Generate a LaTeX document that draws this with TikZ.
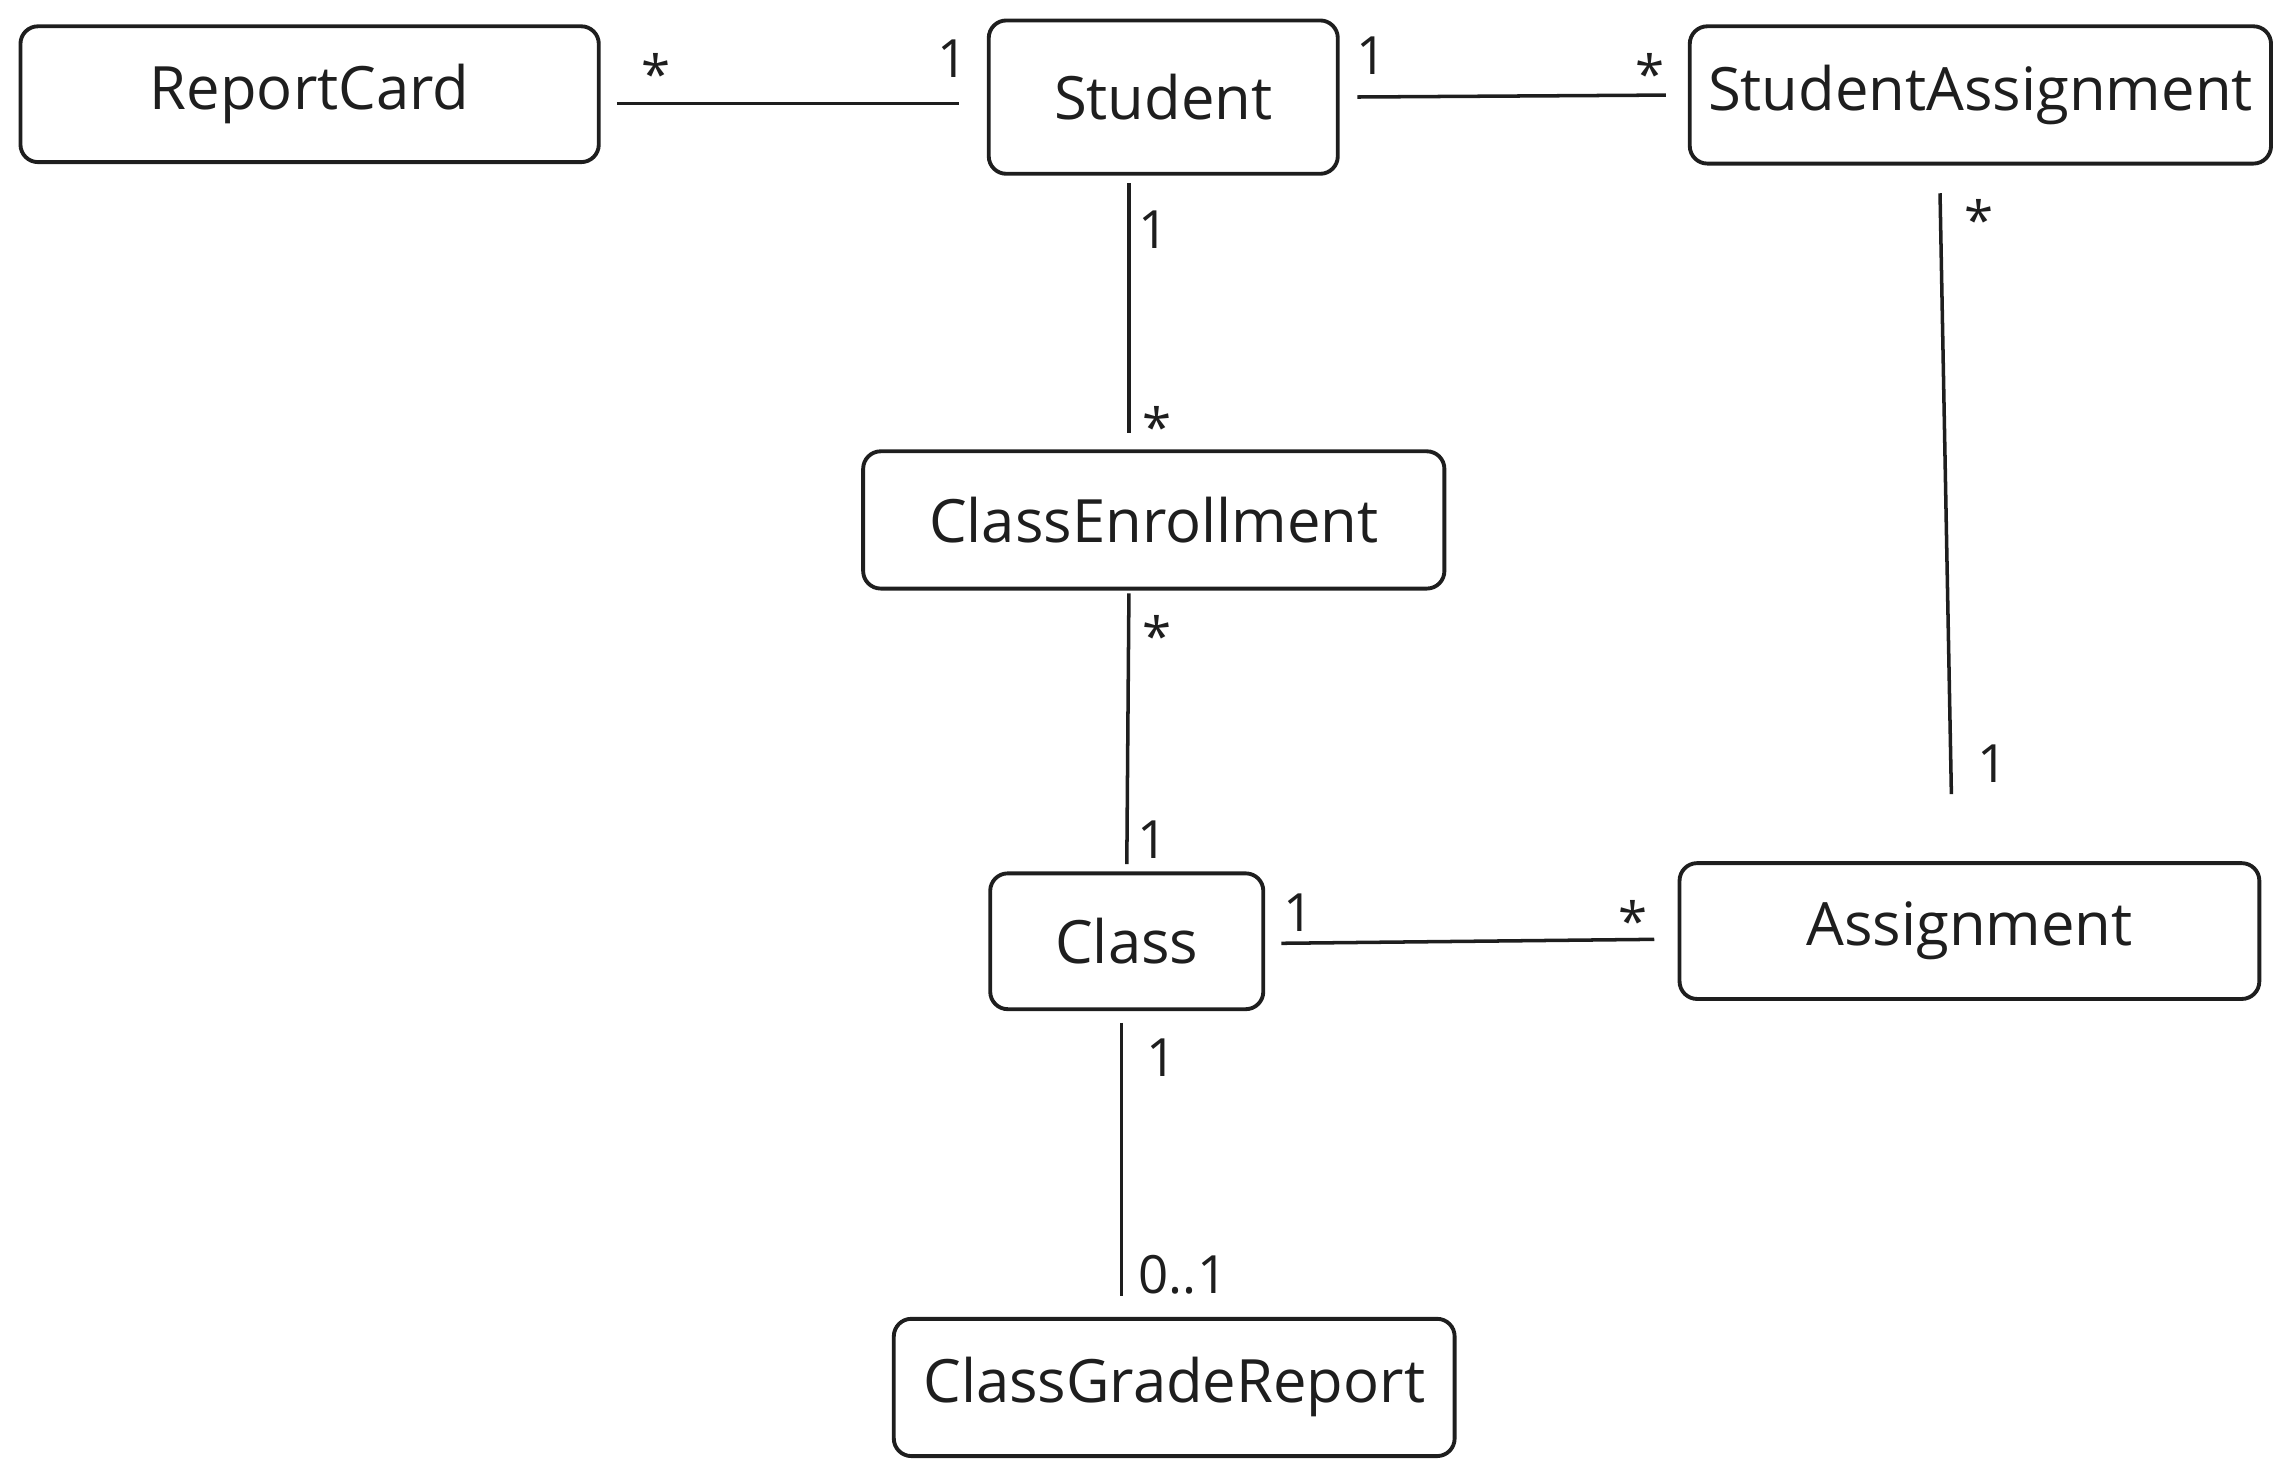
\documentclass[tikz,border=0pt]{standalone}
\usepackage{fontspec}
\setmainfont{Open Sans}
\usepackage{xcolor}
\usepackage{tikz}

\definecolor{ink}{HTML}{1E1E1E}
\newlength{\upx}
\setlength{\upx}{0.014605cm}

\tikzset{
  entity/.style 2 args={draw=ink, line width=1.1pt, rounded corners=5pt,
    minimum width=#1\upx, minimum height=#2\upx, inner sep=0pt,
    text=ink, font=\fontsize{17}{20}\selectfont},
  assoc/.style={draw=ink, line width=1pt},
  mult/.style={inner sep=0pt, text=ink, font=\fontsize{15}{18}\selectfont},
}

\begin{document}
\begin{tikzpicture}[x=0.014605cm, y=-0.014605cm]
\useasboundingbox (0,0) rectangle (1568,1010);

% classes
\node[entity={396}{93}] (ReportCard) at (212,64.5) {ReportCard};
\node[entity={239}{105}] (Student) at (796.5,66.5) {Student};
\node[entity={398}{94}] (StudentAssignment) at (1356,65) {StudentAssignment};
\node[entity={398}{94}] (ClassEnrollment) at (790,356) {ClassEnrollment};
\node[entity={187}{93}] (Class) at (771.5,644.5) {Class};
\node[entity={397}{93}] (Assignment) at (1348.5,637.5) {Assignment};
\node[entity={384}{94}] (ClassGradeReport) at (804,950) {ClassGradeReport};

% associations
\draw[assoc, shorten <=11\upx, shorten >=19\upx] ([yshift=-6.5\upx]ReportCard.east) -- ([yshift=-4.5\upx]Student.west);
\draw[assoc, shorten <=12\upx, shorten >=15\upx] (Student.east) -- (StudentAssignment.west);
\draw[assoc, shorten <=5\upx, shorten >=11\upx] ([xshift=-23.5\upx]Student.south) -- ([xshift=-17\upx]ClassEnrollment.north);
\draw[assoc, shorten <=2\upx, shorten >=5\upx] ([xshift=-17\upx]ClassEnrollment.south) -- (Class.north);
\draw[assoc, shorten <=19\upx, shorten >=46\upx] ([xshift=-28\upx]StudentAssignment.south) -- ([xshift=-11.5\upx]Assignment.north);
\draw[assoc, shorten <=11\upx, shorten >=16\upx] ([yshift=-1.5\upx]Class.east) -- ([yshift=-5.5\upx]Assignment.west);
\draw[assoc, shorten <=8\upx, shorten >=14\upx] ([xshift=-3.5\upx]Class.south) -- ([xshift=-36\upx]ClassGradeReport.north);

% multiplicities
\node[mult] (mRC) at (449,50) {*};
\node[mult] (mStRC) at (652,40) {1};
\node[mult] (mStSA) at (939,38) {1};
\node[mult] (mSA) at (1130,50) {*};
\node[mult] (mStCE) at (790,157) {1};
\node[mult] (mCE) at (792,292) {*};
\node[mult] (mCECl) at (792,435) {*};
\node[mult] (mClCE) at (789,575) {1};
\node[mult] (mSAAs) at (1355,150) {*};
\node[mult] (mAsSA) at (1364,523) {1};
\node[mult] (mClAs) at (889,625) {1};
\node[mult] (mAsCl) at (1118,630) {*};
\node[mult] (mClGR) at (795,724) {1};
\node[mult] (mGR) at (810,873) {0..1};
\end{tikzpicture}
\end{document}
